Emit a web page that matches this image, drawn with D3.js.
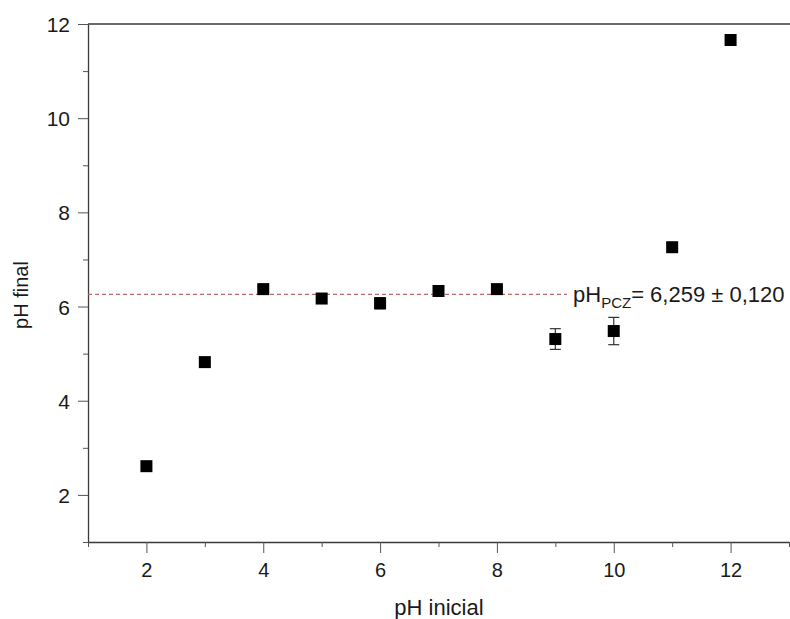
<!DOCTYPE html>
<html>
<head>
<meta charset="utf-8">
<script src="https://cdn.jsdelivr.net/npm/d3@7"></script>
<style>
  body { margin: 0; background: #fff; }
  svg text { font-family: "Liberation Sans", Arial, sans-serif; fill: #1a1a1a; }
</style>
</head>
<body>
<svg id="canvas" width="790" height="619"></svg>
<script>
let phInicial = [2, 3, 4, 5, 6, 7, 8, 9, 10, 11, 12]
let phFinal = [2.61, 4.82, 6.37, 6.17, 6.07, 6.33, 6.37, 5.31, 5.48, 7.26, 11.66]
let phError = [0.02, 0.02, 0.05, 0.04, 0.12, 0.04, 0.04, 0.22, 0.29, 0.02, 0.02]
let xTicks = [1, 2, 3, 4, 5, 6, 7, 8, 9, 10, 11, 12, 13]
let yTicks = [1, 2, 3, 4, 5, 6, 7, 8, 9, 10, 11, 12]
let pczValue = 6.259
let pczError = 0.120

let canvas = d3.select("#canvas")

let xScale = d3.scaleLinear().domain([1, 13]).range([88, 789])
let yScale = d3.scaleLinear().domain([1, 12]).range([542, 24])

let axisColor = "#3a3a3a"

// frame top line
canvas.append("line")
    .attr("x1", 88).attr("x2", 790)
    .attr("y1", yScale(12)).attr("y2", yScale(12))
    .attr("stroke", axisColor).attr("stroke-width", 1.3)

let xAxis = d3.axisBottom(xScale)
    .tickValues(xTicks)
    .tickSizeOuter(0)
    .tickFormat(d => d % 2 === 0 ? d : "")

let yAxis = d3.axisLeft(yScale)
    .tickValues(yTicks)
    .tickSizeOuter(0)
    .tickFormat(d => d % 2 === 0 ? d : "")

let gx = canvas.append("g")
    .attr("transform", "translate(0," + yScale(1) + ")")
    .call(xAxis)

let gy = canvas.append("g")
    .attr("transform", "translate(" + xScale(1) + ",0)")
    .call(yAxis)

gx.select(".domain").attr("stroke", axisColor).attr("stroke-width", 1.3)
gy.select(".domain").attr("stroke", axisColor).attr("stroke-width", 1.3)

gx.selectAll(".tick line")
    .attr("y2", d => d % 2 === 0 ? 11 : 5)
    .attr("stroke", "#555")
gy.selectAll(".tick line")
    .attr("x2", d => d % 2 === 0 ? -10 : -5)
    .attr("stroke", "#555")

gx.selectAll(".tick text")
    .attr("y", 21)
    .attr("dy", "0.71em")
    .style("font-size", "20px")
gy.selectAll(".tick text")
    .attr("x", -18)
    .attr("dy", "0.36em")
    .style("font-size", "21px")

// axis titles
canvas.append("text")
    .attr("x", (xScale(1) + 790) / 2)
    .attr("y", 615)
    .attr("text-anchor", "middle")
    .style("font-size", "22px")
    .text("pH inicial")

canvas.append("text")
    .attr("transform", "translate(28," + 295 + ") rotate(-90)")
    .attr("text-anchor", "middle")
    .style("font-size", "20px")
    .text("pH final")

// pH PCZ dashed line
canvas.append("line")
    .attr("x1", xScale(1))
    .attr("x2", 567)
    .attr("y1", yScale(pczValue))
    .attr("y2", yScale(pczValue))
    .attr("stroke", "#b86a66")
    .attr("stroke-width", 1.2)
    .attr("stroke-dasharray", "4,3")

let label = canvas.append("text")
    .attr("x", 573)
    .attr("y", yScale(pczValue) + 8)
    .style("font-size", "22px")
label.append("tspan").text("pH")
label.append("tspan").attr("dy", 6).style("font-size", "15px").text("PCZ")
label.append("tspan").attr("dy", -6)
    .text("= " + d3.format(".3f")(pczValue).replace(".", ",") + " \u00b1 " + d3.format(".3f")(pczError).replace(".", ","))

// points
let points = phInicial.map((x, i) => ({ x: x, y: phFinal[i], e: phError[i] }))

let err = canvas.selectAll("g.err")
    .data(points)
    .enter()
    .append("g")
    .attr("class", "err")
    .attr("stroke", "#333")
    .attr("stroke-width", 1.2)

err.append("line")
    .attr("x1", d => xScale(d.x)).attr("x2", d => xScale(d.x))
    .attr("y1", d => yScale(d.y + d.e)).attr("y2", d => yScale(d.y - d.e))
err.append("line")
    .attr("x1", d => xScale(d.x) - 5.5).attr("x2", d => xScale(d.x) + 5.5)
    .attr("y1", d => yScale(d.y + d.e)).attr("y2", d => yScale(d.y + d.e))
err.append("line")
    .attr("x1", d => xScale(d.x) - 5.5).attr("x2", d => xScale(d.x) + 5.5)
    .attr("y1", d => yScale(d.y - d.e)).attr("y2", d => yScale(d.y - d.e))

canvas.selectAll("rect.pt")
    .data(points)
    .enter()
    .append("rect")
    .attr("class", "pt")
    .attr("x", d => xScale(d.x) - 6)
    .attr("y", d => yScale(d.y) - 6)
    .attr("width", 12)
    .attr("height", 12)
    .attr("fill", "#000")
</script>
</body>
</html>
